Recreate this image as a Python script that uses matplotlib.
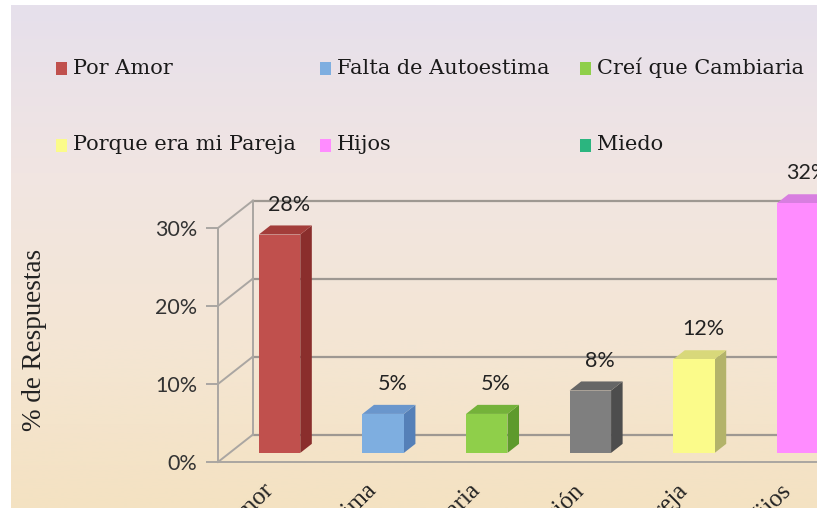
import numpy as np
import matplotlib
matplotlib.use("Agg")
import matplotlib.pyplot as plt
from matplotlib.patches import Rectangle, Polygon
from matplotlib.colors import LinearSegmentedColormap

# datos del grafico
categorias = ["Por Amor", "Falta de Autoestima", "Creí que Cambiaria", "Religión",
              "Porque era mi Pareja", "Hijos", "Miedo"]
porcentajes = [28, 5, 5, 8, 12, 32, 10]
etiquetas = ["28%", "5%", "5%", "8%", "12%", "32%", "10%"]
colores_frente = ["#c0504d", "#7eaee0", "#8fcf4a", "#7f7f7f", "#fbfb8a", "#ff8cff", "#2bb57f"]
colores_lado = ["#8a2e2c", "#5580b8", "#5e9a2c", "#4d4d4d", "#b3b36a", "#c86fd0", "#1d7f58"]
colores_tope = ["#a33d3a", "#6a96cc", "#74b23a", "#666666", "#d8d87a", "#d87ee0", "#23966a"]
leyenda = ["Por Amor", "Falta de Autoestima", "Creí que Cambiaria",
           "Porque era mi Pareja", "Hijos", "Miedo"]
yticks = [0, 10, 20, 30]
ytick_labels = ["0%", "10%", "20%", "30%"]

W, H = 817, 508
fig = plt.figure(figsize=(W / 100, H / 100), dpi=100)
fig.patch.set_facecolor("white")

# ===============================
# fondo degradado
# ===============================
bg = fig.add_axes([11 / W, 0, 1 - 11 / W, 1 - 5 / H], zorder=-5)
cmap = LinearSegmentedColormap.from_list("fondo", ["#e6e0ec", "#f1e5e2", "#f4e6d4", "#f4e2c2"])
bg.imshow(np.linspace(0, 1, 256).reshape(-1, 1), aspect="auto", cmap=cmap,
          extent=[0, 1, 0, 1])
bg.axis("off")

# ===============================
# ejes con efecto 3D
# ===============================
x_izq, x_der = 218, W
y_cero, y_30 = 462, 228
ax = fig.add_axes([x_izq / W, 1 - y_cero / H, (x_der - x_izq) / W, (y_cero - y_30) / H])
ax.patch.set_alpha(0)
px_x = 103.6
xmin = (x_izq - 268) / px_x
xmax = (x_der - 268) / px_x

px_y = (y_cero - y_30) / 30
DX = 35 / px_x
DY = 27.5 / px_y

# etiquetas del eje x (solo se ve el final del texto)
pos_etiq = [i - 0.06 for i in range(len(categorias))]
ax.set_xticks(pos_etiq)
ax.set_xticklabels(categorias, rotation=45, ha="right", va="top", rotation_mode="anchor",
                   family="Liberation Serif", fontsize=18, color="#222222")
ax.tick_params(axis="x", length=0, pad=13)

ax.set_yticks(yticks)
ax.set_yticklabels(ytick_labels, family="Lato", fontsize=15.5, color="#333333")
ax.tick_params(axis="y", length=9, width=1.4, color="#aaa6a2", pad=6)

# limites despues de los ticks para que no se expandan
ax.set_xlim(xmin, xmax)
ax.set_ylim(0, 30)

linea = "#9e9892"
for t in yticks:
    ax.plot([xmin + DX, xmax + 2], [t + DY, t + DY], color=linea, lw=1.6, clip_on=False, zorder=1)
    ax.plot([xmin, xmin + DX], [t, t + DY], color="#aaa6a2", lw=1.4, clip_on=False, zorder=1)
ax.plot([xmin + DX, xmin + DX], [DY, 30 + DY], color="#aaa6a2", lw=1.4, clip_on=False, zorder=1)

for s in ["top", "right"]:
    ax.spines[s].set_visible(False)
for s in ["left", "bottom"]:
    ax.spines[s].set_color("#aaa6a2")
    ax.spines[s].set_linewidth(1.4)

# barras
f = 0.33
ancho = 0.40
for i, (v, cf, cl, ct) in enumerate(zip(porcentajes, colores_frente, colores_lado, colores_tope)):
    x0 = i + f * DX - ancho / 2
    x1 = x0 + ancho
    y0 = f * DY
    y1 = y0 + v
    ddx, ddy = f * DX, f * DY
    ax.add_patch(Polygon([(x1, y0), (x1 + ddx, y0 + ddy), (x1 + ddx, y1 + ddy), (x1, y1)],
                         closed=True, facecolor=cl, edgecolor="none", zorder=3, clip_on=False))
    ax.add_patch(Polygon([(x0, y1), (x1, y1), (x1 + ddx, y1 + ddy), (x0 + ddx, y1 + ddy)],
                         closed=True, facecolor=ct, edgecolor="none", zorder=3, clip_on=False))
    ax.add_patch(Rectangle((x0, y0), ancho, v, facecolor=cf, edgecolor="none", zorder=4,
                           clip_on=False))
    ax.text(i + f * DX + ddx * 0.8, y1 + ddy + 1.4, etiquetas[i], ha="center", va="bottom",
            family="Lato", fontsize=15.5, color="#222222", clip_on=False)

# titulo del eje y
fig.text(35 / W, 1 - 340 / H, "% de Respuestas", rotation=90, ha="center", va="center",
         family="Liberation Serif", fontsize=19.5, color="#222222")

# ===============================
# leyenda
# ===============================
col_x = [56, 320, 580]
fila_y = [68, 145]
for j, nombre in enumerate(leyenda):
    xl = col_x[j % 3]
    yl = fila_y[j // 3]
    c = colores_frente[categorias.index(nombre)]
    fig.add_artist(Rectangle((xl / W, 1 - (yl + 6.5) / H), 11 / W, 13 / H,
                             transform=fig.transFigure, facecolor=c, edgecolor="none"))
    fig.text((xl + 17) / W, 1 - yl / H, nombre, ha="left", va="center",
             family="DejaVu Serif", fontsize=15, color="#1a1a1a")

fig.savefig("out.png", dpi=100)
